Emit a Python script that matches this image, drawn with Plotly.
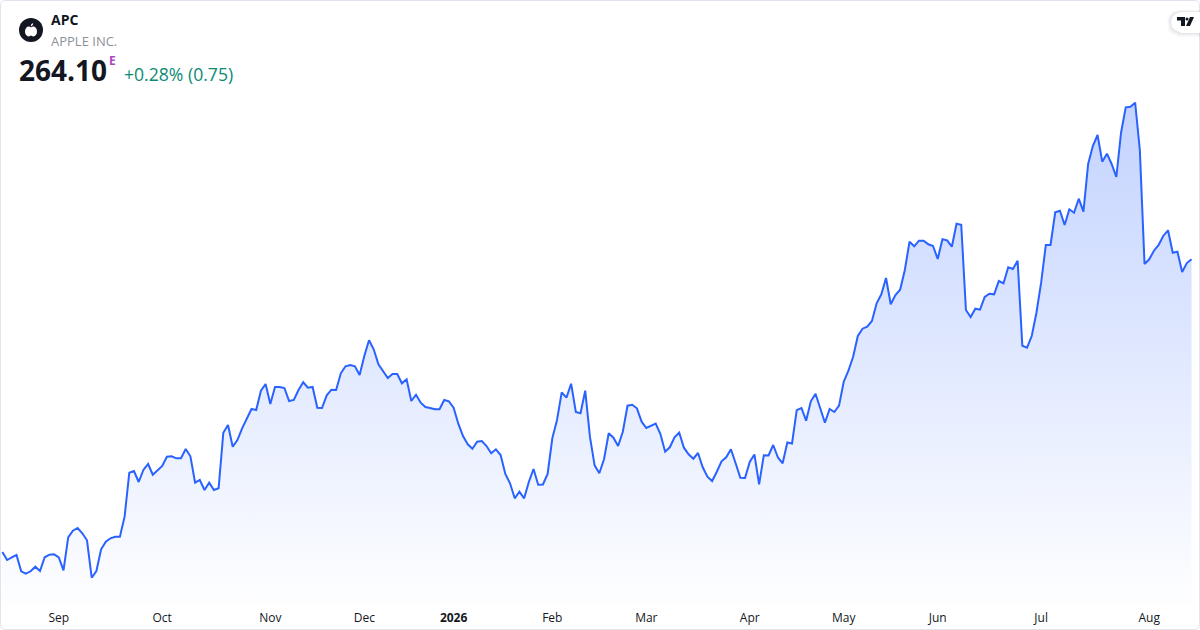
import plotly.graph_objects as go

# daily closes
closes = [
    205.56, 203.96, 204.50, 204.96, 201.70, 201.22, 201.70, 202.62, 201.76, 204.50,
    205.02, 205.10, 204.50, 201.90, 208.50, 209.82, 210.36, 209.30, 207.90, 200.42,
    201.76, 206.10, 207.62, 208.30, 208.62, 208.62, 212.62, 221.42, 221.76, 219.56,
    221.96, 223.16, 221.02, 221.90, 222.76, 224.62, 224.70, 224.30, 224.30, 226.16,
    224.70, 219.42, 219.96, 217.96, 219.42, 217.96, 218.30, 229.42, 230.96, 226.62,
    227.96, 230.30, 232.16, 234.16, 233.96, 237.82, 239.16, 235.16, 238.56, 238.56,
    238.36, 235.76, 235.96, 237.96, 239.50, 238.42, 238.56, 234.42, 234.36, 236.90,
    238.02, 237.96, 241.30, 242.70, 242.96, 242.70, 240.96, 244.76, 247.90, 246.10,
    243.10, 241.76, 240.36, 241.16, 241.16, 239.30, 240.10, 235.76, 237.02, 235.42,
    234.56, 234.36, 234.10, 234.10, 235.96, 235.70, 234.42, 231.22, 228.76, 227.10,
    226.22, 227.62, 227.76, 226.76, 225.30, 226.10, 224.96, 221.16, 219.30, 216.30,
    217.62, 216.30, 219.56, 222.16, 219.00, 219.06, 221.16, 228.30, 231.96, 237.50,
    236.42, 239.22, 233.56, 233.30, 237.82, 228.62, 222.90, 221.30, 224.10, 229.30,
    228.42, 226.76, 229.62, 234.82, 235.02, 234.30, 231.62, 230.36, 230.76, 231.22,
    229.16, 225.62, 226.50, 228.50, 229.42, 226.42, 225.10, 224.22, 225.36, 222.50,
    220.62, 219.76, 221.62, 223.70, 224.50, 226.10, 223.30, 220.42, 220.36, 223.56,
    225.06, 219.10, 224.92, 224.86, 226.96, 224.46, 223.30, 227.46, 227.26, 233.92,
    234.36, 231.82, 235.70, 237.22, 234.30, 231.42, 234.16, 233.56, 234.82, 239.62,
    241.82, 244.62, 248.76, 250.22, 250.62, 251.76, 255.30, 257.10, 260.36, 255.10,
    256.96, 258.02, 261.96, 267.62, 266.70, 267.82, 267.82, 267.10, 266.76, 264.16,
    268.10, 267.90, 266.62, 271.22, 271.02, 253.96, 252.56, 254.22, 254.02, 256.56,
    257.22, 257.10, 259.76, 259.30, 262.50, 262.16, 263.82, 246.82, 246.42, 248.76,
    253.42, 259.42, 266.96, 266.96, 273.50, 273.82, 270.96, 274.10, 273.42, 276.22,
    273.62, 283.16, 286.76, 288.96, 283.62, 285.22, 283.16, 280.56, 289.42, 294.50,
    294.62, 295.42, 285.96, 263.16, 264.10, 265.82, 266.96, 268.82, 269.90, 265.42,
    265.62, 261.56, 263.35, 264.10,
]
sessions = list(range(len(closes)))

# session number of the first trading day of each period
tick_sessions = [12, 34, 57, 77, 96, 117, 137, 159, 179, 199, 221, 244]
tick_labels = ['Sep', 'Oct', 'Nov', 'Dec', '<b>2026</b>', 'Feb', 'Mar', 'Apr', 'May', 'Jun', 'Jul', 'Aug']

W, H = 1200, 630
PANE_H = 606  # paper coordinates end where the x axis starts
FONT = 'Open Sans'


def px(x):
    return x / W


def py(y):
    return 1 - y / PANE_H


def paper_path(points):
    return 'M ' + ' L '.join(f'{px(x):.5f},{py(y):.5f}' for x, y in points) + ' Z'


def rounded_card(left, top, right, bottom, r):
    # Q corners, same idea as paper_path
    p = lambda x, y: f'{px(x):.5f},{py(y):.5f}'
    return (f'M {p(left + r, top)} L {p(right - r, top)} Q {p(right, top)} {p(right, top + r)} '
            f'L {p(right, bottom - r)} Q {p(right, bottom)} {p(right - r, bottom)} '
            f'L {p(left + r, bottom)} Q {p(left, bottom)} {p(left, bottom - r)} '
            f'L {p(left, top + r)} Q {p(left, top)} {p(left + r, top)} Z')


fig = go.Figure()
fig.add_trace(go.Scatter(
    x=sessions,
    y=closes,
    mode='lines',
    line=dict(color='#2962ff', width=2),
    fill='tozeroy',
    fillgradient=dict(
        type='vertical',
        start=max(closes),
        stop=194.76,
        colorscale=[[0, 'rgba(41,98,255,0.28)'], [1, 'rgba(41,98,255,0.005)']],
    ),
    hoverinfo='skip',
))

shapes = [
    # card border
    dict(type='path', xref='paper', yref='paper', path=rounded_card(0.5, 0.5, 1199.5, 629.5, 5),
         line=dict(color='#e0e3eb', width=1), fillcolor='rgba(0,0,0,0)', layer='above'),
    # logo disc
    dict(type='circle', xref='paper', yref='paper', x0=px(19), x1=px(43), y0=py(42), y1=py(18),
         line=dict(width=0), fillcolor='#131722'),
    # apple, body and leaf
    dict(type='circle', xref='paper', yref='paper', x0=px(25), x1=px(32.5), y0=py(36.5), y1=py(26.5),
         line=dict(width=0), fillcolor='#ffffff'),
    dict(type='circle', xref='paper', yref='paper', x0=px(29.5), x1=px(37), y0=py(36.5), y1=py(26.5),
         line=dict(width=0), fillcolor='#ffffff'),
    dict(type='path', xref='paper', yref='paper', line=dict(width=0), fillcolor='#ffffff',
         path=paper_path([(30.8, 26.5), (31.2, 24.2), (33.2, 23), (32.8, 25)])),
]

# watermark pill with a soft shadow
PILL = [(1200, 12), (1181, 12), (1175, 14), (1172, 18), (1171, 22), (1172, 27), (1175, 30), (1181, 33), (1200, 33)]
for grow, alpha in [(4, 0.018), (3, 0.024), (2, 0.03), (1, 0.035)]:
    grown = [(x - grow if x < 1200 else x, y + grow if y > 22 else y - grow / 2) for x, y in PILL]
    shapes.append(dict(type='path', xref='paper', yref='paper', line=dict(width=0),
                       fillcolor=f'rgba(19,23,34,{alpha})', path=paper_path(grown)))
shapes.append(dict(type='path', xref='paper', yref='paper', line=dict(width=0), fillcolor='#ffffff',
                   path=paper_path(PILL)))
# watermark glyph
shapes += [
    dict(type='path', xref='paper', yref='paper', line=dict(width=0), fillcolor='#131722',
         path=paper_path([(1177, 17), (1185, 17), (1185, 26), (1181, 26), (1181, 20.5), (1177, 20.5)])),
    dict(type='circle', xref='paper', yref='paper', x0=px(1185.5), x1=px(1188.5), y0=py(20.5), y1=py(17.5),
         line=dict(width=0), fillcolor='#131722'),
    dict(type='path', xref='paper', yref='paper', line=dict(width=0), fillcolor='#131722',
         path=paper_path([(1190, 17), (1194, 17), (1190, 26), (1186, 26)])),
]

annotations = [
    dict(text='<b>APC</b>', x=px(50), y=py(20), font=dict(size=14, color='#131722')),
    dict(text='APPLE INC.', x=px(50), y=py(41), font=dict(size=13, color='#8e9199')),
    dict(text='<b>264.10</b>', x=px(18), y=py(70), font=dict(size=28, color='#131722')),
    dict(text='<b>E</b>', x=px(108), y=py(61), font=dict(size=12, color='#ab47bc')),
    dict(text='+0.28% (0.75)', x=px(123), y=py(74.5), font=dict(size=17.6, color='#0b8a74')),
]
for a in annotations:
    a.update(xref='paper', yref='paper', xanchor='left', yanchor='middle', showarrow=False,
             align='left', borderpad=0)
    a['font']['family'] = FONT

fig.update_layout(
    width=W,
    height=H,
    margin=dict(l=0, r=0, t=0, b=24),
    paper_bgcolor='#ffffff',
    plot_bgcolor='#ffffff',
    showlegend=False,
    font=dict(family=FONT, size=12, color='#131722'),
    shapes=shapes,
    annotations=annotations,
    xaxis=dict(
        range=[-0.51, 254.8],
        tickmode='array',
        tickvals=tick_sessions,
        ticktext=tick_labels,
        showgrid=False,
        zeroline=False,
        showline=False,
        ticks='',
        ticklabelstandoff=3,
        tickfont=dict(family=FONT, size=12, color='#131722'),
    ),
    yaxis=dict(
        range=[194.76, 315.96],
        showgrid=False,
        zeroline=False,
        showline=False,
        showticklabels=False,
    ),
)

# the page's default body margin would push the chart 8px in
fig.write_html('out.html', config=dict(displayModeBar=False),
               post_script="document.body.style.margin='0';document.body.style.overflow='hidden';")
